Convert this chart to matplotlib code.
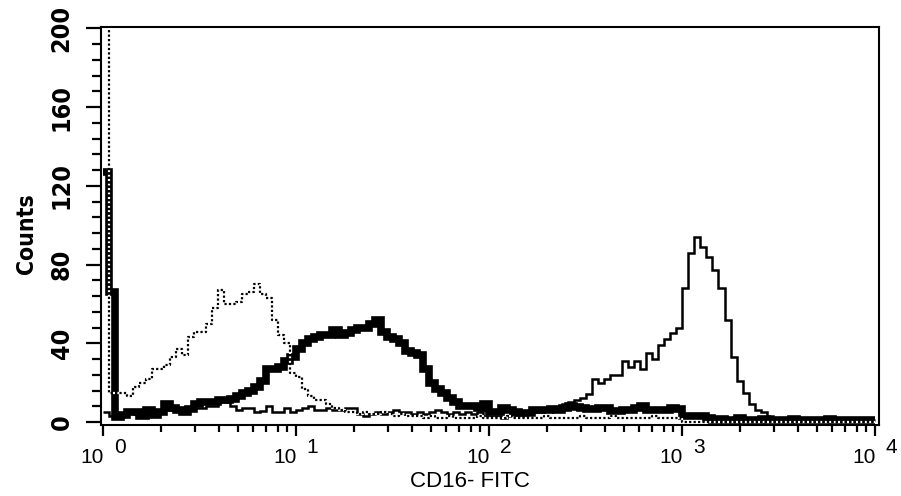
import numpy as np
import matplotlib
matplotlib.use("Agg")
import matplotlib.pyplot as plt
from matplotlib.ticker import MultipleLocator, LogLocator, NullFormatter, FixedLocator

# ---------------- data (counts per channel, 32 channels per decade, 10^0 .. 10^4) -------------
bins_per_decade = 32
n_decades = 4

thick_counts = [
    127, 66, 2.5, 3.5, 5, 5, 3, 6, 3.5, 5, 9, 7, 6, 5, 6.5, 9,
    10, 10, 10, 11, 11, 11.5, 13, 15, 16, 18, 21, 27, 27, 28, 31, 33,
    37, 40, 42, 43, 44, 44, 47, 44, 45, 47, 48, 48, 50, 52, 46, 43,
    42, 40, 36, 35, 34, 27, 20, 17, 15, 12, 10, 8, 8, 8, 7, 9,
    5, 5, 7, 6, 5, 4, 4.5, 6, 6, 6, 6.5, 6, 7, 8, 7.5, 7,
    6.5, 6.5, 7, 7, 5.5, 5.5, 6, 6, 7, 8, 6, 6, 6, 6, 7, 6.5,
    3, 3, 3, 3, 2, 1, 1.5, 1, 1, 2, 1, 1, 1, 1.5, 1, 1,
    1, 1, 1.5, 1, 1, 1, 1, 1, 1.5, 1, 1, 1, 1, 1, 1, 1,
]

thin_counts = [
    5, 3, 4, 4, 5, 4, 5, 5, 6, 5, 6, 6, 6, 7, 6, 7,
    7, 8, 8, 10, 10, 8, 6, 7, 7, 5, 5.5, 8, 5, 5, 7, 5,
    6, 7, 8, 6, 6, 7, 6, 6, 7, 7, 4, 3, 4, 5, 4, 5,
    6, 5, 5, 4, 5, 4, 5, 6, 5, 4, 5, 4, 5, 4, 5, 3,
    3, 3, 2, 3, 3, 4, 4, 5, 5, 6, 6, 7, 9, 10, 11, 12,
    14, 22, 20, 22, 24, 24, 31, 28, 31, 27, 35, 32, 39, 42, 45, 48,
    68, 86, 94, 89, 84, 77, 68, 52, 33, 21, 15, 9, 6, 5, 3, 2,
    1, 1, 1, 1, 1, 1, 1, 1, 1, 1, 1, 1, 1, 1, 1, 1,
]

dotted_counts = [
    230, 15, 15, 15, 13, 18, 20, 22, 27, 27, 29, 33, 37, 34, 43, 46,
    46, 50, 58, 67, 60, 60, 61, 65, 66, 70, 65, 63, 52, 44, 40, 25,
    23, 17, 13, 11, 11, 9, 7, 6, 5, 5, 4, 5, 4, 4, 5, 4,
    3, 4, 3, 3, 3, 2, 3, 2, 2, 3, 2, 2, 2, 2, 3, 2,
    2, 2, 2, 3, 2, 2, 2, 2, 2, 3, 2, 2, 2, 2, 2, 3,
    2, 2, 2, 2, 3, 2, 2, 2, 2, 2, 2, 3, 2, 2, 2, 2,
    0, 0, 0, 0, 0, 0, 0, 0, 0, 0, 0, 0, 0, 0, 0, 0,
    0, 0, 0, 0, 0, 0, 0, 0, 0, 0, 0, 0, 0, 0, 0, 0,
]

y_ticks = [0, 40, 80, 120, 160, 200]
decades = [0, 1, 2, 3, 4]
x_label = "CD16- FITC"
y_label = "Counts"

# ---------------- fonts ----------------
narrow = "DejaVu Sans"
sans = "Liberation Sans"

# ---------------- figure ----------------
fig = plt.figure(figsize=(9.01, 4.96), dpi=100)
W, H = 901, 496
ax = fig.add_axes([101 / W, 1 - 425 / H, 778 / W, 398 / H])

edges = 10 ** (np.arange(bins_per_decade * n_decades + 1) / bins_per_decade)

def step_line(vals, **kw):
    y = np.r_[np.asarray(vals, float), vals[-1]]
    return ax.plot(edges, y, drawstyle="steps-post", color="black",
                   solid_joinstyle="miter", solid_capstyle="butt", **kw)

step_line(thin_counts, linewidth=1.8, zorder=3)
step_line(thick_counts, linewidth=5.5, zorder=4)
step_line(dotted_counts, linewidth=1.6, linestyle=(0, (1, 1)), gapcolor="white",
          dash_capstyle="butt", zorder=5)

ax.set_xscale("log")
ax.set_xlim(10 ** (-2.3 / 193), 10 ** (4 + 3.7 / 193))
ax.set_ylim(-1.5, 200.7)

for s in ax.spines.values():
    s.set_linewidth(1.5)

ax.xaxis.set_major_locator(FixedLocator([10 ** d for d in decades]))
ax.xaxis.set_minor_locator(LogLocator(base=10, subs=np.arange(2, 10), numticks=50))
ax.xaxis.set_major_formatter(NullFormatter())
ax.xaxis.set_minor_formatter(NullFormatter())
ax.tick_params(axis="x", which="major", length=8, width=1.6, direction="out")
ax.tick_params(axis="x", which="minor", length=5, width=1.6, direction="out")

ax.yaxis.set_major_locator(FixedLocator(y_ticks))
ax.yaxis.set_minor_locator(MultipleLocator(8))
ax.set_yticklabels([str(v) for v in y_ticks])
ax.tick_params(axis="y", which="major", length=10.8, width=1.6, direction="out", pad=9)
ax.tick_params(axis="y", which="minor", length=6.5, width=1.6, direction="out")
for lab in ax.get_yticklabels():
    lab.set_rotation(90)
    lab.set_va("center")
    lab.set_ha("right")
    lab.set_fontfamily(narrow)
    lab.set_fontstretch("condensed")
    lab.set_fontweight("bold")
    lab.set_fontsize(18)

# decade labels "10" with raised exponent
for d in decades:
    ax.annotate("10", xy=(10 ** d, 0), xycoords=("data", "axes fraction"),
                xytext=(0.5, -38), textcoords="offset pixels", ha="right", va="baseline",
                fontsize=15, family=sans, annotation_clip=False)
    ax.annotate(str(d), xy=(10 ** d, 0), xycoords=("data", "axes fraction"),
                xytext=(10.5, -28), textcoords="offset pixels", ha="left", va="baseline",
                fontsize=15, family=sans, annotation_clip=False)

fig.text(470 / W, 1 - 487 / H, x_label, ha="center", va="baseline", fontsize=16, family=sans)
fig.text(26 / W, 1 - 234 / H, y_label, rotation=90, ha="center", va="center",
         fontsize=16.5, family=narrow, fontstretch="condensed", fontweight="bold")

fig.savefig("out.png", dpi=100, facecolor="white")
